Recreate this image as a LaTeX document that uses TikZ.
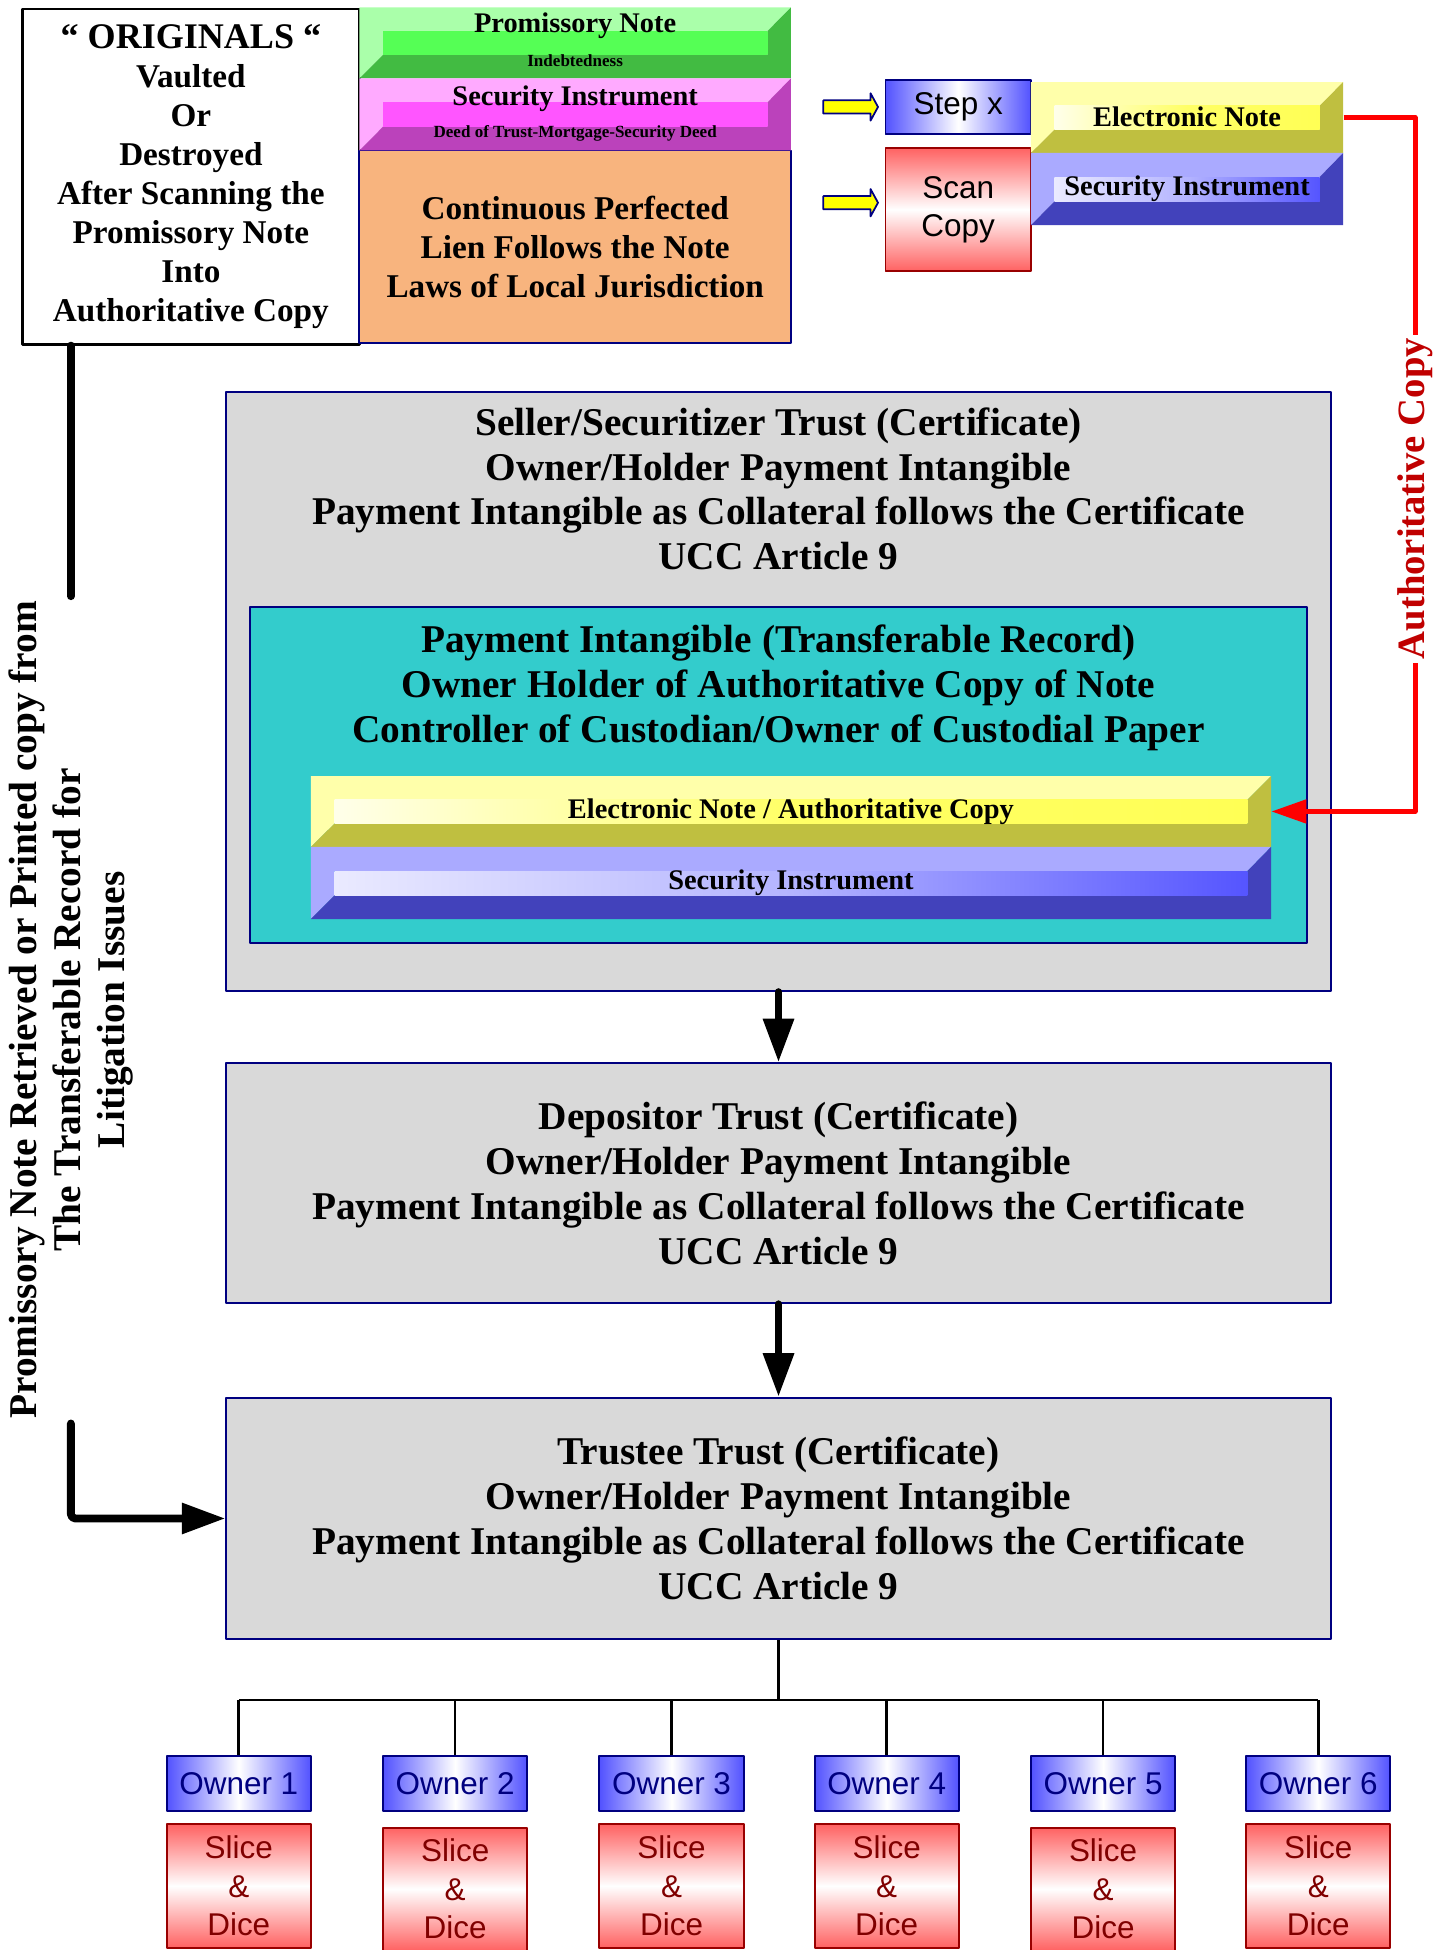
\documentclass[tikz,border=0pt]{standalone}
\usepackage{fontspec}
\setmainfont{Liberation Serif}
\setsansfont{Liberation Sans}
\usetikzlibrary{arrows.meta}
\definecolor{navy}{HTML}{000080}
\definecolor{boxgray}{HTML}{D9D9D9}
\definecolor{tealbox}{HTML}{33CCCC}
\definecolor{lienorange}{HTML}{F8B47E}
\definecolor{owblue}{HTML}{5252FF}
\definecolor{scred}{HTML}{FF6262}
\definecolor{darkred}{HTML}{990000}
\definecolor{slicered}{HTML}{800000}
\definecolor{authred}{HTML}{C00000}
\definecolor{arrowyellow}{HTML}{FFFF00}
% bevel colours: l light face, d dark face, a/b/m inner bar left/middle/right
\definecolor{gr-l}{HTML}{AAFFAA}\definecolor{gr-d}{HTML}{42BB42}
\definecolor{gr-a}{HTML}{55FF55}\definecolor{gr-b}{HTML}{55FF55}\definecolor{gr-m}{HTML}{55FF55}
\definecolor{mg-l}{HTML}{FFAAFF}\definecolor{mg-d}{HTML}{BB42BB}
\definecolor{mg-a}{HTML}{FF55FF}\definecolor{mg-b}{HTML}{FF55FF}\definecolor{mg-m}{HTML}{FF55FF}
\definecolor{yl-l}{HTML}{FFFFAA}\definecolor{yl-d}{HTML}{BFBF40}
\definecolor{yl-a}{HTML}{FFFFEA}\definecolor{yl-b}{HTML}{FFFF66}\definecolor{yl-m}{HTML}{FFFF55}
\definecolor{bl-l}{HTML}{AAAAFF}\definecolor{bl-d}{HTML}{4242BB}
\definecolor{bl-a}{HTML}{EAEAFF}\definecolor{bl-b}{HTML}{B4B4FF}\definecolor{bl-m}{HTML}{5555FF}
\begin{document}
\begin{tikzpicture}[x=0.02cm,y=-0.02cm,line join=round,
	>={Triangle[length=20pt,width=13.5pt]},
	graybox/.style={draw=navy,line width=0.9pt,fill=boxgray,inner sep=0pt},
	bigtxt/.style={font=\fontsize{18}{20.5}\selectfont\bfseries,align=center},
	midtxt/.style={font=\fontsize{15.2}{17.8}\selectfont\bfseries,align=center},
	bandtxt/.style={font=\fontsize{13}{15}\selectfont\bfseries,inner sep=0pt},
	tinytxt/.style={font=\fontsize{7.8}{9}\selectfont\bfseries,inner sep=0pt},
	sftxt/.style={font=\sffamily\fontsize{14.4}{17.6}\selectfont,align=center,inner sep=0pt},
	bluebox/.style={draw=navy,line width=0.9pt,left color=owblue,right color=owblue,middle color=white,sftxt},
	redbox/.style={draw=darkred,line width=0.9pt,top color=scred,bottom color=scred,middle color=white,sftxt},
	flowarrow/.style={->,line width=3.6pt,line cap=round},
	treeline/.style={line width=1.2pt}]
	\useasboundingbox (0,0) rectangle (1162,1568);
	%Originals
	\node[draw=black,line width=1.1pt,fill=white,minimum width=5.42cm,minimum height=5.4cm,midtxt,inner sep=0pt] (orig) at (153.5,142) {{\fontsize{16.5}{19}\selectfont “ ORIGINALS “}\\Vaulted\\Or\\Destroyed\\After Scanning the\\Promissory Note\\Into\\Authoritative Copy};
	\node[draw=navy,line width=0.9pt,fill=lienorange,minimum width=6.94cm,minimum height=3.1cm,midtxt] (lien) at (462.5,198.5) {Continuous Perfected\\Lien Follows the Note\\Laws of Local Jurisdiction};
	%Step x, Scan Copy
	\node[bluebox,text=black,minimum width=2.34cm,minimum height=0.88cm] (stepx) at (770.5,86) {Step x};
	\node[redbox,text=black,minimum width=2.34cm,minimum height=1.98cm] (scan) at (770.5,168.5) {Scan\\Copy};
	\foreach \cy in {86,163}
		\draw[draw=navy,line width=0.8pt,fill=arrowyellow] (662,\cy-5.3) -- (700,\cy-5.3) -- (700,\cy-11) -- (706,\cy) -- (700,\cy+11) -- (700,\cy+5.3) -- (662,\cy+5.3) -- cycle;
	%Trust boxes
	\node[graybox,minimum width=17.76cm,minimum height=9.64cm] (seller) at (626,556) {};
	\node[bigtxt] (sellertxt) at (626,393) {Seller/Securitizer Trust (Certificate)\\Owner/Holder Payment Intangible\\Payment Intangible as Collateral follows the Certificate\\UCC Article 9};
	\node[draw=navy,line width=0.9pt,fill=tealbox,minimum width=17cm,minimum height=5.4cm] (payint) at (626,623) {};
	\node[bigtxt] (payinttxt) at (626,553) {Payment Intangible (Transferable Record)\\Owner Holder of Authoritative Copy of Note\\Controller of Custodian/Owner of Custodial Paper};
	\node[graybox,bigtxt,minimum width=17.76cm,minimum height=3.86cm] (depositor) at (626,951.5) {Depositor Trust (Certificate)\\Owner/Holder Payment Intangible\\Payment Intangible as Collateral follows the Certificate\\UCC Article 9};
	\node[graybox,bigtxt,minimum width=17.76cm,minimum height=3.88cm] (trustee) at (626,1221) {Trustee Trust (Certificate)\\Owner/Holder Payment Intangible\\Payment Intangible as Collateral follows the Certificate\\UCC Article 9};
	%Bevel bars
	\foreach \xa/\ya/\xb/\yb/\col/\nm in {289/6/636/63/gr/pnband, 289/63/636/121/mg/siband, 829/66/1080/123/yl/enband, 829/123/1080/181/bl/esband, 250/624/1022/681/yl/eaband, 250/681/1022/739/bl/s2band}{
		\pgfmathsetmacro\yt{\ya+0.335*(\yb-\ya)}
		\pgfmathsetmacro\ybm{\ya+0.67*(\yb-\ya)}
		\fill[\col-l] (\xa,\ya) -- (\xb,\ya) -- (\xb-19,\yt) -- (\xa+19,\yt) -- (\xa+19,\ybm) -- (\xa,\yb) -- cycle;
		\fill[\col-d] (\xa,\yb) -- (\xa+19,\ybm) -- (\xb-19,\ybm) -- (\xb-19,\yt) -- (\xb,\ya) -- (\xb,\yb) -- cycle;
		\shade[left color=\col-a,right color=\col-m,middle color=\col-b] (\xa+19,\yt) rectangle (\xb-19,\ybm);
		\node[inner sep=0pt,minimum width={(\xb-\xa)*0.02cm},minimum height={(\yb-\ya)*0.02cm}] (\nm) at ({(\xa+\xb)/2},{(\ya+\yb)/2}) {};
	}
	\node[bandtxt] (pnote) at (462.5,21) {Promissory Note};
	\node[tinytxt] (pdebt) at (462.5,49) {Indebtedness};
	\node[bandtxt] (secinst) at (462.5,79) {Security Instrument};
	\node[tinytxt] (secdeed) at (462.5,107) {Deed of Trust-Mortgage-Security Deed};
	\node[bandtxt] (enote) at (954.5,94) {Electronic Note};
	\node[bandtxt] (esec) at (954.5,152) {Security Instrument};
	\node[bandtxt] (enoteac) at (636,652.5) {Electronic Note / Authoritative Copy};
	\node[bandtxt] (secinst2) at (636,710) {Security Instrument};
	%Authoritative copy connector
	\coordinate (authmid) at (1138,401);
	\draw[red,line width=2.1pt,-{Triangle[length=16pt,width=10.6pt]}] (enband.east) -| (authmid) |- (eaband.east);
	\node[rotate=90,fill=white,inner sep=1.5pt,text=authred,font=\fontsize{17.7}{20}\selectfont\bfseries] (authlbl) at (authmid) {Authoritative Copy};
	%Litigation copy
	\node[rotate=90,bigtxt,font=\fontsize{18}{20}\selectfont\bfseries,inner sep=2pt] (littxt) at (57,812) {Promissory Note Retrieved or Printed copy from\\The Transferable Record for\\Litigation Issues};
	\draw[line width=3.6pt,line cap=round] (orig.south -| littxt) -- (littxt.east);
	\draw[flowarrow,rounded corners=2pt] (littxt.west) |- (trustee.west);
	%Flow
	\draw[flowarrow] (seller.south) -- (depositor.north);
	\draw[flowarrow] (depositor.south) -- (trustee.north);
	%Owners
	\foreach \i/\x/\yy in {1/192/1516.5,2/366/1519,3/540/1516.5,4/713/1516.5,5/887/1519,6/1060/1516.5}{
		\node[bluebox,text=navy,minimum width=2.32cm,minimum height=0.88cm] (owner\i) at (\x,1434) {Owner \i};
		\node[redbox,text=slicered,minimum width=2.32cm,minimum height=1.98cm] (slice\i) at (\x,\yy) {Slice\\\&\\Dice};
	}
	\coordinate (split) at (626,1367);
	\draw[treeline] (trustee.south) -- (split);
	\draw[treeline] (owner1.north |- split) -- (owner6.north |- split);
	\foreach \i in {1,...,6}
		\draw[treeline] (owner\i.north |- split) -- (owner\i.north);
\end{tikzpicture}
\end{document}
